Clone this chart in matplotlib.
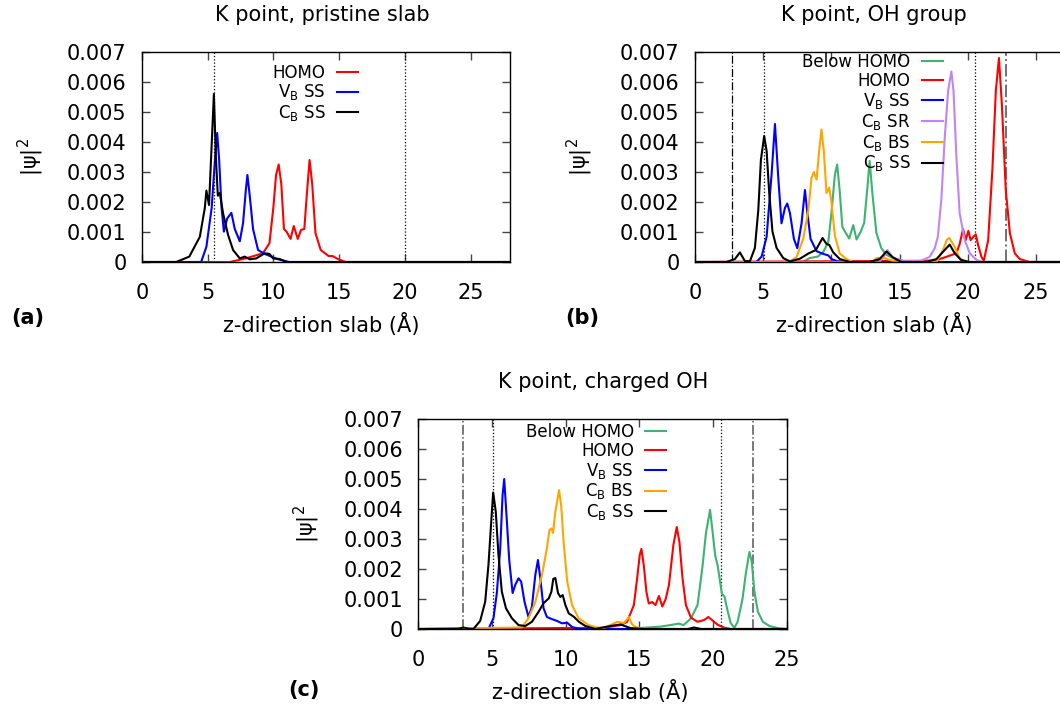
import matplotlib
matplotlib.use("Agg")
import matplotlib.pyplot as plt
import numpy as np

# |psi|^2 values are read off in units of 1e-3
# ---- panel (a): pristine slab ----
a_homo_x = [0, 6.7, 7.9, 9.2, 9.7, 10.0, 10.2, 10.4, 10.6, 10.8, 11.0, 11.3, 11.55, 11.85,
            12.1, 12.35, 12.55, 12.75, 12.95, 13.2, 13.6, 14.2, 14.5, 14.9, 15.5, 28]
a_homo_y = [0, 0, 0.12, 0.29, 0.63, 1.84, 2.9, 3.25, 2.6, 1.1, 1.01, 0.77, 1.2, 0.77,
            1.07, 1.1, 2.3, 3.4, 2.6, 0.96, 0.40, 0.20, 0.20, 0.10, 0, 0]
a_vb_x = [0, 4.5, 4.9, 5.3, 5.55, 5.72, 5.87, 6.05, 6.23, 6.48, 6.8, 7.06, 7.44, 7.69,
          7.9, 8.02, 8.2, 8.45, 8.83, 9.33, 9.84, 10.35, 11.2, 28]
a_vb_y = [0, 0, 0.51, 1.8, 3.4, 4.3, 3.4, 1.83, 1.01, 1.45, 1.64, 1.1, 0.69, 1.3,
          2.4, 2.9, 2.2, 1.1, 0.40, 0.27, 0.18, 0.09, 0, 0]
a_ss_x = [0, 2.6, 3.6, 4.4, 4.78, 4.9, 5.1, 5.47, 5.62, 5.77, 5.92, 6.17, 6.55, 6.93,
          7.44, 7.81, 8.2, 8.7, 9.33, 9.7, 9.97, 10.47, 11.0, 28]
a_ss_y = [0, 0, 0.18, 0.84, 1.8, 2.38, 1.9, 5.6, 3.5, 2.21, 2.3, 1.62, 0.9, 0.4,
          0.12, 0.18, 0.09, 0.12, 0.29, 0.27, 0.12, 0.1, 0, 0]

# ---- panel (b): OH group ----
b_below_x = [0, 7.9, 8.4, 9.0, 9.4, 9.77, 10.0, 10.25, 10.42, 10.6, 10.8, 11.05, 11.3, 11.6,
             11.84, 12.13, 12.4, 12.62, 12.8, 13.02, 13.3, 13.66, 14.03, 14.5, 15.25, 16.0, 28]
b_below_y = [0, 0, 0.13, 0.18, 0.33, 0.67, 1.63, 2.9, 3.25, 2.4, 1.17, 0.97, 0.78, 1.23,
             0.75, 1.0, 1.3, 2.4, 3.37, 2.2, 0.96, 0.46, 0.24, 0.13, 0.04, 0, 0]
b_homo_x = [0, 16.9, 17.7, 18.4, 19.16, 19.4, 19.65, 19.84, 20.04, 20.2, 20.43, 20.58, 20.75,
            21.0, 21.17, 21.49, 21.8, 22.05, 22.28, 22.5, 22.78, 23.08, 23.44, 23.8, 24.5, 28]
b_homo_y = [0, 0.04, 0.06, 0.17, 0.29, 0.6, 1.1, 0.73, 1.04, 0.73, 0.85, 0.92, 0.57,
            0.17, 0.04, 0.73, 3.1, 5.7, 6.8, 5.2, 2.4, 0.96, 0.29, 0.1, 0, 0]
b_vb_x = [0, 4.5, 4.88, 5.25, 5.61, 5.86, 6.1, 6.34, 6.59, 6.76, 6.96, 7.25, 7.5, 7.81,
          8.06, 8.22, 8.47, 8.91, 9.4, 9.77, 10.0, 10.6, 28]
b_vb_y = [0, 0, 0.18, 0.84, 2.9, 4.6, 2.84, 1.29, 1.8, 1.95, 1.63, 0.77, 0.46, 1.29,
          2.4, 1.7, 0.77, 0.36, 0.27, 0.22, 0.1, 0, 0]
b_sr_x = [0, 13.5, 13.8, 14.1, 14.5, 15.25, 16.5, 17.2, 17.57, 17.8, 18.06, 18.3, 18.55,
          18.79, 18.95, 19.16, 19.4, 19.77, 20.14, 20.63, 21.1, 28]
b_sr_y = [0, 0, 0.15, 0.4, 0.15, 0.03, 0.03, 0.17, 0.46, 0.84, 2.1, 4.1, 5.7,
          6.35, 5.7, 3.5, 1.62, 0.73, 0.29, 0.07, 0, 0]
b_bs_x = [0, 6.9, 7.44, 7.93, 8.3, 8.54, 8.71, 8.91, 9.1, 9.27, 9.44, 9.64, 9.84, 10.0,
          10.25, 10.6, 11.1, 11.6, 13.0, 13.3, 13.8, 14.28, 14.8, 17.7, 18.18, 18.47, 18.65,
          19.04, 19.4, 19.9, 28]
b_bs_y = [0, 0, 0.16, 0.77, 1.7, 2.8, 3.0, 2.75, 3.7, 4.42, 3.7, 2.3, 2.48, 2.0,
          0.89, 0.29, 0.1, 0, 0, 0.13, 0.15, 0.07, 0, 0, 0.4, 0.75, 0.8,
          0.5, 0.12, 0, 0]
b_ss_x = [0, 2.3, 2.93, 3.29, 3.66, 4.03, 4.39, 4.64, 4.83, 5.07, 5.25, 5.44, 5.68, 5.98,
          6.47, 6.96, 7.69, 8.3, 8.86, 9.35, 9.64, 9.84, 10.13, 10.61, 11.35, 12.8, 13.54,
          14.03, 14.52, 15.13, 16.96, 17.7, 18.3, 18.67, 19.04, 19.5, 20.1, 28]
b_ss_y = [0, 0, 0.1, 0.32, 0.03, 0.03, 0.47, 1.73, 3.4, 4.2, 3.7, 2.3, 1.01, 0.47,
          0.13, 0.02, 0.11, 0.28, 0.4, 0.8, 0.6, 0.57, 0.32, 0.1, 0, 0, 0.1,
          0.35, 0.15, 0, 0, 0.1, 0.4, 0.58, 0.29, 0.07, 0, 0]

# ---- panel (c): charged OH ----
c_below_x = [0, 14.2, 15.3, 16.43, 17.1, 17.67, 18.0, 18.5, 18.95, 19.29, 19.52, 19.8, 19.98,
             20.14, 20.32, 20.6, 20.78, 21.0, 21.2, 21.45, 21.67, 22.0, 22.24, 22.47, 22.63,
             22.81, 23.04, 23.38, 23.83, 24.4, 25]
c_below_y = [0, 0, 0.04, 0.08, 0.13, 0.18, 0.13, 0.35, 0.8, 2.1, 3.2, 3.97, 3.2,
             2.47, 2.1, 1.18, 1.08, 0.58, 0.2, 0.04, 0.24, 1.0, 1.9, 2.57, 2.24,
             1.24, 0.58, 0.24, 0.1, 0.03, 0]
c_homo_x = [0, 12.59, 13.72, 14.17, 14.63, 14.85, 15.03, 15.14, 15.3, 15.48, 15.64, 15.87,
            16.1, 16.33, 16.56, 16.79, 17.01, 17.31, 17.54, 17.72, 17.93, 18.16, 18.5, 18.95,
            19.4, 19.68, 19.98, 20.32, 20.78, 21.2, 25]
c_homo_y = [0, 0.04, 0.13, 0.24, 0.8, 1.69, 2.47, 2.67, 2.13, 1.24, 0.85, 0.9,
            0.8, 1.1, 0.75, 1.0, 1.47, 2.8, 3.4, 2.9, 1.69, 0.8, 0.38, 0.24,
            0.3, 0.4, 0.28, 0.14, 0.04, 0, 0]
c_vb_x = [0, 4.76, 5.1, 5.33, 5.56, 5.72, 5.83, 6.01, 6.17, 6.4, 6.58, 6.8, 6.98, 7.21,
          7.48, 7.71, 7.94, 8.12, 8.28, 8.5, 8.73, 9.07, 9.41, 9.75, 10.1, 10.43, 10.9, 25]
c_vb_y = [0, 0, 0.36, 1.2, 2.68, 4.47, 5.0, 3.6, 2.3, 1.2, 1.47, 1.69, 1.58, 0.9,
          0.4, 0.74, 1.8, 2.3, 1.69, 0.69, 0.4, 0.33, 0.27, 0.19, 0.21, 0.07, 0, 0]
c_bs_x = [0, 7.03, 7.48, 7.94, 8.39, 8.73, 8.9, 9.03, 9.14, 9.3, 9.55, 9.7, 9.86, 10.1,
          10.43, 10.88, 11.56, 12.46, 13.04, 13.5, 13.95, 14.3, 14.45, 14.63, 15.09, 25]
c_bs_y = [0, 0.05, 0.36, 0.9, 1.8, 2.7, 3.3, 3.35, 3.2, 3.9, 4.63, 4.1, 2.9, 1.6,
          0.8, 0.36, 0.13, 0, 0.13, 0.24, 0.2, 0.4, 0.2, 0.1, 0, 0]
c_ss_x = [0, 2.72, 3.06, 3.4, 3.74, 4.2, 4.54, 4.76, 4.95, 5.08, 5.26, 5.44, 5.67, 5.95,
          6.35, 6.8, 7.26, 7.71, 8.17, 8.5, 8.85, 9.03, 9.16, 9.3, 9.48, 9.64, 9.8, 9.98,
          10.21, 10.55, 10.9, 11.34, 12.0, 13.04, 13.72, 14.4, 15.3, 18.3, 18.7, 19.2, 25]
c_ss_y = [0, 0.01, 0.05, 0.01, 0, 0.27, 0.91, 2.13, 3.58, 4.55, 3.9, 2.47, 1.24, 0.69,
          0.36, 0.13, 0.1, 0.24, 0.58, 0.86, 1.02, 1.24, 1.67, 1.7, 1.2, 1.07, 1.13, 0.8,
          0.52, 0.41, 0.24, 0.1, 0, 0.1, 0.15, 0.03, 0, 0, 0.05, 0, 0]

# reference lines (surface / adsorbate positions)
a_dotted = [5.5, 20.0]
b_dotted = [5.05, 20.5]
b_dashdot = [2.73, 22.8]
c_dotted = [5.1, 20.57]
c_dashdot = [3.0, 22.68]

yticks = [0, 0.001, 0.002, 0.003, 0.004, 0.005, 0.006, 0.007]
ytick_labels = ["0", "0.001", "0.002", "0.003", "0.004", "0.005", "0.006", "0.007"]
xticks = [0, 5, 10, 15, 20, 25]

RED, BLUE, BLACK = "#ff0000", "#0000ff", "#000000"
GREEN, ORANGE, PURPLE = "#3cb371", "#ffa500", "#bf85f5"

LBL_HOMO = "HOMO"
LBL_BELOW = "Below HOMO"
LBL_VB = r"V$_\mathrm{B}$ SS"
LBL_SR = r"C$_\mathrm{B}$ SR"
LBL_BS = r"C$_\mathrm{B}$ BS"
LBL_SS = r"C$_\mathrm{B}$ SS"

plt.rcParams["font.family"] = ["DejaVu Sans"]

fig = plt.figure(figsize=(10.6, 7.09), dpi=100)
ax_a = fig.add_axes([142 / 1060, 1 - 262 / 709, 368 / 1060, 210 / 709])
ax_b = fig.add_axes([695 / 1060, 1 - 262 / 709, 382 / 1060, 210 / 709])
ax_c = fig.add_axes([418.3 / 1060, 1 - 629 / 709, 368.4 / 1060, 210 / 709])

LW = 1.5


def style(ax, xmax, title, title_x, letter, letter_x, letter_y, xlab_x):
    ax.set_xlim(0, xmax)
    ax.set_ylim(0, 0.007)
    ax.set_xticks(xticks)
    ax.set_xticklabels([str(t) for t in xticks])
    ax.set_yticks(yticks)
    ax.set_yticklabels(ytick_labels)
    ax.tick_params(direction="in", top=True, right=True, length=6, width=1,
                   color="#444444", labelsize=15)
    ax.tick_params(axis="x", pad=15)
    ax.tick_params(axis="y", pad=11)
    for s in ax.spines.values():
        s.set_linewidth(1.0)
    ax.set_xlabel("z-direction slab (Å)", fontsize=15)
    ax.xaxis.set_label_coords(xlab_x, -0.245)
    ax.set_ylabel("|ψ|$^2$", fontsize=15)
    ax.yaxis.set_label_coords(-0.262, 0.5)
    ax.text(title_x, 1.176, title, transform=ax.transAxes, ha="center", va="center",
            fontsize=15)
    ax.text(letter_x, letter_y, letter, transform=ax.transAxes, ha="left", va="center",
            fontsize=15, fontweight="bold")


def legend(ax, x, y):
    ax.legend(loc="upper right", bbox_to_anchor=(x, y), frameon=False, markerfirst=False,
              handlelength=1.26, handletextpad=0.66, labelspacing=0.05, borderpad=0,
              borderaxespad=0, fontsize=12)


# (a)
for v in a_dotted:
    ax_a.axvline(v, color="k", ls=":", lw=0.9)
ax_a.plot(a_homo_x, np.array(a_homo_y) * 1e-3, color=RED, lw=LW, label=LBL_HOMO)
ax_a.plot(a_vb_x, np.array(a_vb_y) * 1e-3, color=BLUE, lw=LW, label=LBL_VB)
ax_a.plot(a_ss_x, np.array(a_ss_y) * 1e-3, color=BLACK, lw=LW, label=LBL_SS)
style(ax_a, 28, "K point, pristine slab", 0.489, "(a)", -0.354, -0.267, 0.488)
legend(ax_a, 0.586, 0.945)

# (b)
for v in b_dotted:
    ax_b.axvline(v, color="k", ls=":", lw=0.9)
ax_b.axvline(b_dashdot[0], color="k", ls="-.", lw=0.9)
ax_b.axvline(b_dashdot[1], color="#707070", ls="-.", lw=1.4)
ax_b.plot(b_below_x, np.array(b_below_y) * 1e-3, color=GREEN, lw=LW, label=LBL_BELOW)
ax_b.plot(b_homo_x, np.array(b_homo_y) * 1e-3, color=RED, lw=LW, label=LBL_HOMO)
ax_b.plot(b_vb_x, np.array(b_vb_y) * 1e-3, color=BLUE, lw=LW, label=LBL_VB)
ax_b.plot(b_sr_x, np.array(b_sr_y) * 1e-3, color=PURPLE, lw=LW, label=LBL_SR)
ax_b.plot(b_bs_x, np.array(b_bs_y) * 1e-3, color=ORANGE, lw=LW, label=LBL_BS)
ax_b.plot(b_ss_x, np.array(b_ss_y) * 1e-3, color=BLACK, lw=LW, label=LBL_SS)
style(ax_b, 28, "K point, OH group", 0.469, "(b)", -0.340, -0.267, 0.469)
legend(ax_b, 0.648, 0.994)

# (c)
for v in c_dotted:
    ax_c.axvline(v, color="k", ls=":", lw=0.9)
for v in c_dashdot:
    ax_c.axvline(v, color="#555555", ls="-.", lw=1.1)
ax_c.plot(c_below_x, np.array(c_below_y) * 1e-3, color=GREEN, lw=LW, label=LBL_BELOW)
ax_c.plot(c_homo_x, np.array(c_homo_y) * 1e-3, color=RED, lw=LW, label=LBL_HOMO)
ax_c.plot(c_vb_x, np.array(c_vb_y) * 1e-3, color=BLUE, lw=LW, label=LBL_VB)
ax_c.plot(c_bs_x, np.array(c_bs_y) * 1e-3, color=ORANGE, lw=LW, label=LBL_BS)
ax_c.plot(c_ss_x, np.array(c_ss_y) * 1e-3, color=BLACK, lw=LW, label=LBL_SS)
style(ax_c, 25, "K point, charged OH", 0.501, "(c)", -0.354, -0.29, 0.466)
legend(ax_c, 0.672, 0.981)

fig.savefig("out.png", dpi=100)
